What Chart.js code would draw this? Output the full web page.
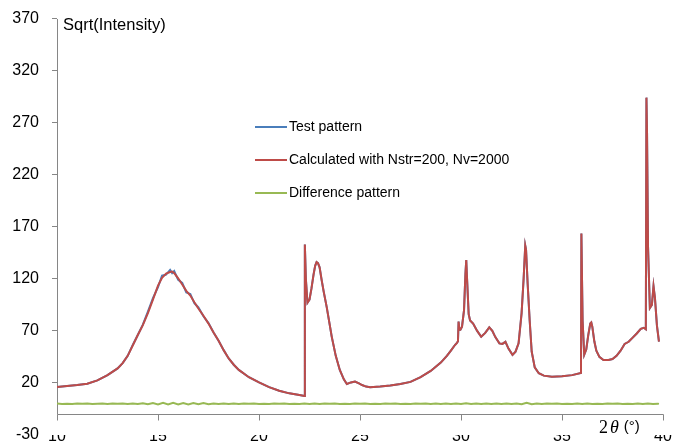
<!DOCTYPE html>
<html>
<head>
<meta charset="utf-8">
<script src="https://cdn.jsdelivr.net/npm/chart.js@4.4.1/dist/chart.umd.min.js"></script>
<style>
  html, body { margin: 0; padding: 0; background: #fff; }
  #wrap { width: 675px; height: 444px; position: relative; }
</style>
</head>
<body>
<div id="wrap"><canvas id="xrd"></canvas></div>
<script>
// 2-theta grid shared by the measured and calculated patterns
const twoTheta = [
  10, 10.5, 11, 11.5, 12, 12.5, 13, 13.25, 13.5, 13.75, 14, 14.25, 14.5, 14.75, 15, 15.2, 15.4, 15.6, 15.7, 15.8,
  16, 16.2, 16.4, 16.6, 16.8, 17, 17.25, 17.5, 17.75, 18, 18.25, 18.5, 18.75, 19, 19.5, 20, 20.5,
  21, 21.5, 22, 22.25, 22.27, 22.32, 22.4, 22.5, 22.6, 22.7, 22.78, 22.85, 22.92, 23, 23.1, 23.2, 23.35,
  23.5, 23.6, 23.8, 24, 24.2, 24.35, 24.55, 24.75, 24.95, 25.1, 25.3, 25.5, 26, 26.5, 27, 27.5,
  28, 28.5, 29, 29.3, 29.5, 29.7, 29.8, 29.85, 29.88, 29.92, 29.97, 30.05, 30.15, 30.22, 30.26,
  30.3, 30.38, 30.45, 30.6, 30.8, 31, 31.2, 31.4, 31.55, 31.7, 31.9, 32.05, 32.2, 32.35, 32.55,
  32.7, 32.85, 33, 33.1, 33.18, 33.22, 33.3, 33.4, 33.5, 33.65, 33.85, 34.1, 34.5, 35, 35.5,
  35.94, 35.96, 36.02, 36.1, 36.2, 36.3, 36.4, 36.45, 36.5, 36.6, 36.7, 36.85, 37.05, 37.3, 37.5,
  37.7, 37.9, 38.1, 38.3, 38.5, 38.7, 38.9, 39.05, 39.15, 39.18, 39.21, 39.26, 39.35, 39.45,
  39.53, 39.6, 39.7, 39.8
];

const calculated = [
  16.2, 17, 18, 19.3, 22.5, 27.5, 34, 39, 46, 56, 66, 75.5, 87, 100, 113.5, 121, 125, 126.5, 127, 125.5,
  120.5, 114.5, 108.5, 104, 97.5, 91.5, 84.5, 77, 68.5, 60.5, 51.5, 43.5, 37.5, 32.5, 25.5, 20.5, 16,
  12.5, 10, 8.5, 7.5, 153, 120, 97, 100, 111, 124, 132.5, 136, 135, 131, 119, 108, 93,
  76, 64.5, 46, 32.5, 23.5, 19, 20.5, 21.3, 19.5, 18, 16.5, 15.8, 16.5, 17.5, 19, 21,
  25.5, 31.5, 39.5, 46, 51, 56.4, 58.5, 60, 79, 71, 71, 74, 90, 125, 138,
  120, 86, 80, 77, 70, 64.4, 68, 73.4, 70, 64, 58, 57.5, 59.5, 53, 47,
  50, 58, 87, 120, 152, 148, 115, 80, 50, 35, 29.3, 27, 26, 26.5, 27.5,
  29.5, 163.5, 80, 47, 52, 66, 77, 78, 74, 60, 51, 45, 42, 42, 43,
  46, 51, 57.5, 59.5, 63.5, 67.5, 72, 73, 71.5, 294, 260, 150, 92, 95,
  113, 102, 75, 59.6
];

const testPattern = [
  16.2, 17, 18, 19.3, 22.5, 27.5, 34, 39, 46, 56.5, 66, 76, 88.5, 101.5, 112, 123, 124, 128.5, 125.5, 127.5,
  119, 116, 107, 105.5, 96.5, 92.5, 84, 77.5, 68.5, 60.5, 51.5, 43.5, 37.5, 32.5, 25.5, 20.5, 16,
  12.5, 10, 8.5, 7.5, 153, 120, 97, 100, 111, 124, 132.5, 136, 135, 131, 119, 108, 93,
  76, 64.5, 46, 32.5, 23.5, 19, 20.5, 21.3, 19.5, 18, 16.5, 15.8, 16.5, 17.5, 19, 21,
  25.5, 31.5, 39.5, 46, 51, 56.4, 58.5, 60, 79, 71, 71, 74, 90, 125, 138,
  120, 86, 80, 77, 70, 64.4, 68, 73.4, 70, 64, 58, 57.5, 59.5, 53, 47,
  50, 58, 87, 120, 152, 148, 115, 80, 50, 35, 29.3, 27, 26, 26.5, 27.5,
  29.5, 163.5, 80, 47, 52, 66, 77, 78, 74, 60, 51, 45, 42, 42, 43,
  46, 51, 57.5, 59.5, 63.5, 67.5, 72, 73, 71.5, 294, 260, 150, 92, 95,
  113, 102, 75, 59.6
];

// difference pattern, finer grid
const diffTheta = [
  10, 10.25, 10.5, 10.75, 11, 11.25, 11.5, 11.75, 12, 12.25, 12.5, 12.75, 13, 13.25, 13.5, 13.75,
  14, 14.25, 14.5, 14.75, 15, 15.25, 15.5, 15.75, 16, 16.25, 16.5, 16.75, 17, 17.25, 17.5, 17.75,
  18, 18.25, 18.5, 18.75, 19, 19.25, 19.5, 19.75, 20, 20.25, 20.5, 20.75, 21, 21.25, 21.5, 21.75,
  22, 22.25, 22.5, 22.75, 23, 23.25, 23.5, 23.75, 24, 24.25, 24.5, 24.75, 25, 25.25, 25.5, 25.75,
  26, 26.25, 26.5, 26.75, 27, 27.25, 27.5, 27.75, 28, 28.25, 28.5, 28.75, 29, 29.25, 29.5, 29.75,
  30, 30.25, 30.5, 30.75, 31, 31.25, 31.5, 31.75, 32, 32.25, 32.5, 32.75, 33, 33.25, 33.5, 33.75,
  34, 34.25, 34.5, 34.75, 35, 35.25, 35.5, 35.75, 36, 36.25, 36.5, 36.75, 37, 37.25, 37.5, 37.75,
  38, 38.25, 38.5, 38.75, 39, 39.25, 39.5, 39.75, 39.8
];

const difference = [
  0.2, -0.2, 0.1, -0.2, 0.3, -0.1, 0.2, -0.3, 0.1, 0.3, -0.2, 0.2, -0.1, 0.3, -0.2, 0.3,
  -0.3, 0.5, -0.5, 0.7, -0.6, 0.9, -0.7, 0.9, -0.7, 0.8, -0.6, 0.7, -0.5, 0.6, -0.4, 0.3,
  -0.2, 0.2, -0.3, 0.2, -0.2, 0.3, -0.1, 0.2, -0.2, 0.1, -0.2, 0.2, -0.1, 0.2, -0.2, 0.1,
  -0.2, 0.3, -0.2, 0.3, -0.3, 0.2, -0.1, 0.2, -0.2, 0.1, -0.2, 0.2, -0.1, 0.2, -0.2, 0.1,
  -0.2, 0.2, -0.1, 0.2, -0.2, 0.1, -0.2, 0.2, -0.1, 0.3, -0.2, 0.2, -0.3, 0.2, -0.2, 0.3,
  -0.3, 0.4, -0.2, 0.2, -0.3, 0.2, -0.2, 0.3, -0.2, 0.2, -0.3, 0.3, -0.5, 1.0, -0.5, 0.3,
  -0.2, 0.2, -0.1, 0.2, -0.2, 0.1, -0.2, 0.2, -0.3, 0.2, -0.2, 0.1, -0.2, 0.2, -0.1, 0.2,
  -0.2, 0.1, -0.2, 0.2, -0.3, 0.2, -0.2, 0.1, -0.1
];

const xTicks = [10, 15, 20, 25, 30, 35, 40];
const yTicks = [-30, 20, 70, 120, 170, 220, 270, 320, 370];
const seriesNames = ['Test pattern', 'Calculated with Nstr=200, Nv=2000', 'Difference pattern'];
const xAxisAt = -10;   // horizontal axis crosses here

const AXIS = '#868686';
const SANS = '"Liberation Sans", Arial, sans-serif';

const pts = (xs, ys) => xs.map((x, i) => ({ x: x, y: ys[i] }));

// axis lines, title, legend and x-axis label
const decor = {
  id: 'decor',
  beforeDatasetsDraw(chart) {
    const { ctx, chartArea, scales: { x, y } } = chart;
    const yCross = Math.round(y.getPixelForValue(xAxisAt)) + 0.5;
    const xl = Math.round(chartArea.left) + 0.5;
    ctx.save();
    ctx.strokeStyle = AXIS;
    ctx.lineWidth = 1;
    ctx.beginPath();
    ctx.moveTo(xl, Math.round(y.getPixelForValue(370)));
    ctx.lineTo(xl, yCross);
    ctx.lineTo(Math.round(x.getPixelForValue(40)) + 0.5, yCross);
    xTicks.forEach(v => {
      const px = Math.round(x.getPixelForValue(v)) + 0.5;
      ctx.moveTo(px, yCross);
      ctx.lineTo(px, yCross + 6);
    });
    ctx.stroke();
    ctx.restore();
  },
  afterDraw(chart) {
    const ctx = chart.ctx;
    ctx.save();
    ctx.fillStyle = '#000';
    ctx.textBaseline = 'middle';
    ctx.font = '16.5px ' + SANS;
    ctx.fillText('Sqrt(Intensity)', 63, 25);

    // legend
    const rows = [127, 160, 193];
    ctx.font = '14px ' + SANS;
    chart.data.datasets.forEach((ds, i) => {
      ctx.strokeStyle = ds.borderColor;
      ctx.lineWidth = 2;
      ctx.beginPath();
      ctx.moveTo(255, rows[i]);
      ctx.lineTo(287, rows[i]);
      ctx.stroke();
      ctx.fillText(ds.label, 289, rows[i]);
    });

    // 2θ (°)
    let cx = 599;
    ctx.font = '18px "Liberation Serif", serif';
    ctx.fillText('2', cx, 428);
    cx += ctx.measureText('2').width + 2;
    ctx.font = 'italic 18px "Liberation Serif", serif';
    ctx.fillText('\u03B8', cx, 428);
    cx += ctx.measureText('\u03B8').width + 5;
    ctx.font = '15px ' + SANS;
    ctx.fillText('(\u00B0)', cx, 427);
    ctx.restore();
  }
};

new Chart(document.getElementById('xrd'), {
  type: 'line',
  data: {
    datasets: [{
      label: seriesNames[0],
      data: pts(twoTheta, testPattern),
      borderColor: '#4a7ebb',
      borderWidth: 2,
      order: 3
    }, {
      label: seriesNames[1],
      data: pts(twoTheta, calculated),
      borderColor: '#be4b48',
      borderWidth: 2,
      order: 2
    }, {
      label: seriesNames[2],
      data: pts(diffTheta, difference),
      borderColor: '#98b954',
      borderWidth: 2,
      order: 1
    }]
  },
  options: {
    responsive: true,
    maintainAspectRatio: false,
    animation: false,
    devicePixelRatio: 1,
    layout: { padding: { top: 18.5, right: 12, bottom: 0, left: 0 } },
    elements: { point: { radius: 0 }, line: { tension: 0 } },
    plugins: { legend: { display: false }, tooltip: { enabled: false } },
    scales: {
      x: {
        type: 'linear',
        min: 10,
        max: 40,
        afterBuildTicks: s => { s.ticks = xTicks.map(v => ({ value: v })); },
        afterFit: s => { s.height = 9; s.paddingLeft = 0; s.paddingRight = 0; },
        grid: { display: false, drawTicks: false },
        border: { display: false },
        ticks: { padding: -8, color: '#000', font: { family: SANS, size: 16 }, maxRotation: 0, autoSkip: false }
      },
      y: {
        type: 'linear',
        min: -30,
        max: 370,
        afterBuildTicks: s => { s.ticks = yTicks.map(v => ({ value: v })); },
        afterFit: s => { s.width = 57; s.paddingTop = 0; s.paddingBottom = 0; },
        grid: {
          drawOnChartArea: false,
          drawTicks: true,
          tickLength: 5,
          color: c => (c.tick && c.tick.value === -30) ? 'rgba(0,0,0,0)' : AXIS
        },
        border: { display: false },
        ticks: { padding: 13, color: '#000', font: { family: SANS, size: 16 } }
      }
    }
  },
  plugins: [decor]
});
</script>
</body>
</html>
